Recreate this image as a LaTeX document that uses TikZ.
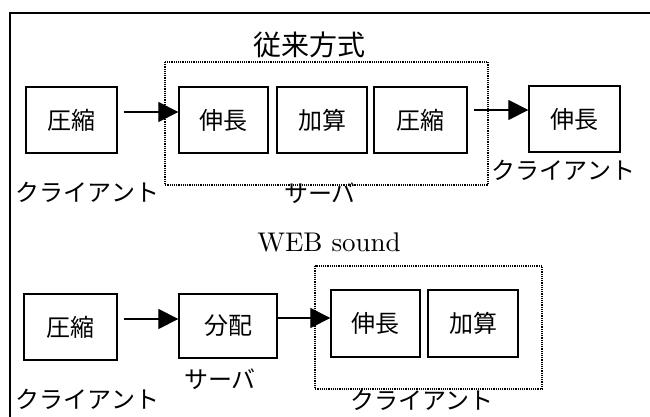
\documentclass[tikz,border=0pt]{standalone}
\usepackage{fontspec}
\newfontfamily\cjk{Noto Sans CJK JP}
\newfontfamily\lmten[Extension=.otf]{lmroman10-regular}
\usetikzlibrary{arrows.meta}
\tikzset{
  blk/.style={draw, line width=1.3pt, inner sep=0pt, font=\cjk\fontsize{24}{27}\selectfont},
  lbl/.style={inner sep=0pt, font=\cjk\fontsize{24}{27}\selectfont},
  ttl/.style={inner sep=0pt, font=\cjk\fontsize{28}{31}\selectfont},
  grp/.style={draw, line width=1.4pt, dash pattern=on 1.2pt off 1pt},
  arr/.style={line width=1.2pt, -{Triangle[length=20pt,width=20pt]}},
}
\begin{document}
\begin{tikzpicture}[x=1pt,y=-1pt]
\useasboundingbox (0,0) rectangle (650,417);
% frame (top and left edges)
\draw[line width=1.2pt] (650,13) -- (10,13) -- (10,417);
% ---- top row ----
\node[ttl] (t1) at (309,45) {従来方式};
\draw[grp] (165,62) rectangle (488,185);
\node[blk, minimum width=91pt, minimum height=66pt] (c1) at (71.5,120) {圧縮};
\node[blk, minimum width=89pt, minimum height=66pt] (e1) at (223.5,120) {伸長};
\node[blk, minimum width=90pt, minimum height=66pt] (a1) at (322,120) {加算};
\node[blk, minimum width=93pt, minimum height=66pt] (c2) at (420.5,120) {圧縮};
\node[blk, minimum width=91pt, minimum height=66pt] (e2) at (574.5,119) {伸長};
\node[lbl] (l1) at (87.5,192) {クライアント};
\node[lbl] (l2) at (320,193) {サーバ};
\node[lbl] (l3) at (563.5,170) {クライアント};
\draw[arr, shorten <=6pt] ([yshift=8pt]c1.east) -- ([yshift=8pt]e1.west);
\draw[arr, shorten <=6pt] ([yshift=10pt]c2.east) -- ([yshift=10pt]c2.east -| e2.west);
% ---- bottom row ----
\node[inner sep=0pt, font=\lmten\fontsize{27}{31}\selectfont] (t2) at (329,242) {WEB sound};
\draw[grp] (315,266) rectangle (542,389);
\node[blk, minimum width=93pt, minimum height=66pt] (c3) at (70.5,327) {圧縮};
\node[blk, minimum width=98pt, minimum height=64pt] (d) at (228,326) {分配};
\node[blk, minimum width=89pt, minimum height=67pt] (e3) at (375.5,323.5) {伸長};
\node[blk, minimum width=90pt, minimum height=67pt] (a3) at (473,323.5) {加算};
\node[lbl] (l4) at (87.5,399) {クライアント};
\node[lbl] (l5) at (220,379) {サーバ};
\node[lbl] (l6) at (422,400) {クライアント};
\draw[arr, shorten <=6pt] ([yshift=8pt]c3.east) -- ([yshift=8pt]c3.east -| d.west);
\draw[arr] ([yshift=8pt]d.east) -- ([yshift=8pt]d.east -| e3.west);
\end{tikzpicture}
\end{document}
